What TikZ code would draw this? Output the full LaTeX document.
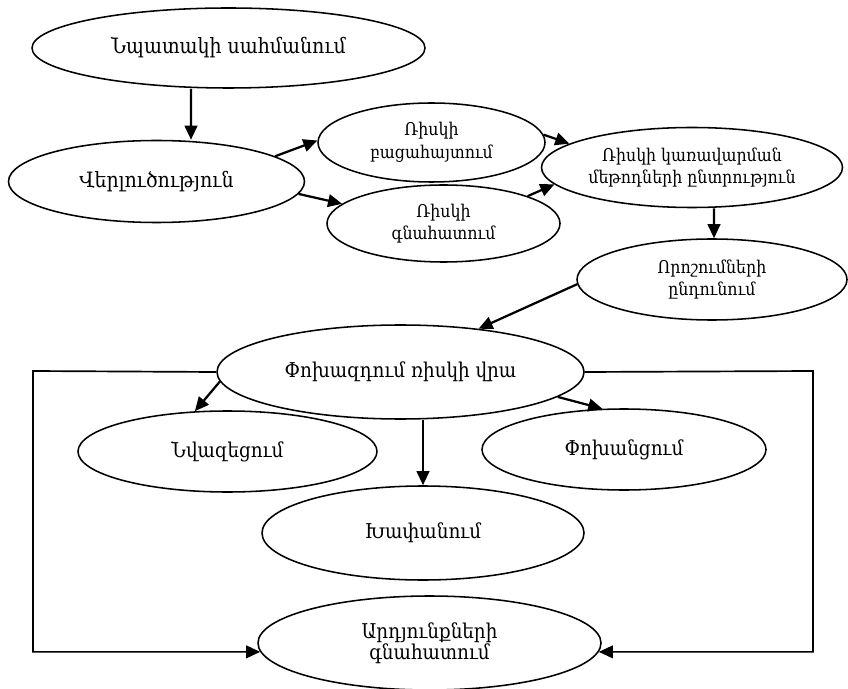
\documentclass[tikz,border=0pt]{standalone}
\usepackage{fontspec}
\setmainfont{DejaVu Serif Condensed}
\usetikzlibrary{arrows.meta,shapes.geometric}

\begin{document}
\begin{tikzpicture}[
	stage/.style={shape=ellipse,draw=black,line width=1.1pt,inner sep=0pt,align=center,font=\fontsize{12.5}{16}\selectfont},
	link/.style={-{Triangle[length=10pt,width=9pt]},line width=1.6pt},
	back/.style={-{Triangle[length=10pt,width=9pt]},line width=1.2pt}]
	
	\useasboundingbox (0,0) rectangle (21.2,17.2);
	
	\node[stage,minimum width=9.825cm,minimum height=2cm,font=\fontsize{15}{18}\selectfont] (g) at (5.7125, 16)     {Նպատակի սահմանում};
	\node[stage,minimum width=7.4cm,minimum height=2.05cm,font=\fontsize{15}{18}\selectfont] (an) at (3.9125, 12.6625)     {Վերլուծություն};
	\node[stage,minimum width=5.675cm,minimum height=1.975cm] (id) at (10.7875, 13.6375)     {Ռիսկի\\բացահայտում};
	\node[stage,minimum width=5.825cm,minimum height=1.925cm] (as) at (11.0875, 11.6125)     {Ռիսկի\\գնահատում};
	\node[stage,minimum width=7.525cm,minimum height=2cm] (m) at (17.3, 13.0125)     {Ռիսկի կառավարման\\մեթոդների ընտրություն};
	\node[stage,minimum width=6.75cm,minimum height=2.025cm] (d) at (17.8, 10.2125)     {Որոշումների\\ընդունում};
	\node[stage,minimum width=9.175cm,minimum height=2.35cm,font=\fontsize{14.5}{17}\selectfont] (act) at (10.0125, 7.9)     {Փոխազդում ռիսկի վրա};
	\node[stage,minimum width=7.475cm,minimum height=2.025cm,font=\fontsize{14.5}{17}\selectfont] (red) at (5.6875, 5.9125)     {Նվազեցում};
	\node[stage,minimum width=8.05cm,minimum height=2.35cm,font=\fontsize{14.5}{17}\selectfont] (cut) at (10.575, 3.875)     {Խափանում};
	\node[stage,minimum width=7.1cm,minimum height=2.025cm,font=\fontsize{14.5}{17}\selectfont] (tr) at (15.6, 5.9625)     {Փոխանցում};
	\node[stage,minimum width=8.575cm,minimum height=2.35cm,font=\fontsize{14.5}{15}\selectfont] (res) at (10.7375, 1.125)     {Արդյունքների\\գնահատում};
	
	\coordinate (lt) at (0.825, 7.925);
	\coordinate (rt) at (20.325, 7.925);
	
	\path[link] ([xshift=-0.9375cm]g.south) edge ([xshift=0.8625cm]an.north);
	\path[link] (an.12) edge (id.179);
	\path[link] (an.-5) edge (as.169);
	\path[link] (id.4) edge (m.169);
	\path[link] (as.18) edge (m.187);
	\path[link] ([xshift=0.55cm]m.south) edge ([xshift=0.05cm]d.north);
	\path[link] (d.182) edge (act.29);
	\path[link] (act.183) edge (red.129);
	\path[link] (act.-9) edge (tr.118);
	\path[link] ([xshift=0.5625cm]act.south) edge (cut.north);
	
	\draw[back] (act.west) -- (lt) |- (res.183);
	\draw[back] (act.east) -- (rt) |- (res.-3);
	\end{tikzpicture}
\end{document}
